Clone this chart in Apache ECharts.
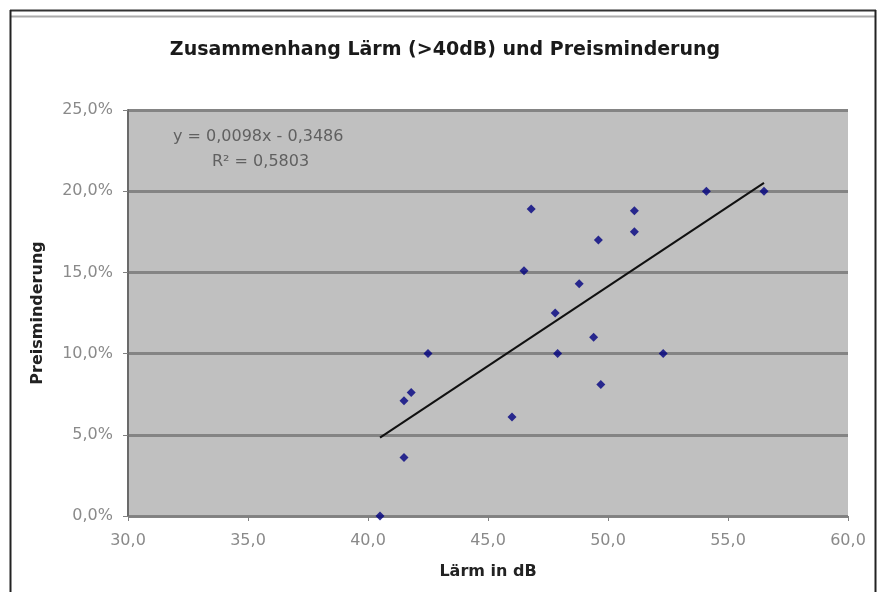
<!DOCTYPE html>
<html>
<head>
<meta charset="utf-8">
<script src="https://cdn.jsdelivr.net/npm/echarts@6/dist/echarts.min.js"></script>
<style>
  html, body { margin: 0; padding: 0; background: #ffffff; }
  #chart { width: 878px; height: 592px; }
</style>
</head>
<body>
<div id="chart"></div>
<script>
// Noise level (dB) for each property
var noiseDb = [40.5, 41.5, 41.5, 41.8, 42.5, 46.0, 46.5, 46.8, 47.8, 47.9,
               48.8, 49.4, 49.6, 49.7, 51.1, 51.1, 52.3, 54.1, 56.5];
// Price reduction (%) for each property
var reductionPct = [0.0, 3.6, 7.1, 7.6, 10.0, 6.1, 15.1, 18.9, 12.5, 10.0,
                    14.3, 11.0, 17.0, 8.1, 18.8, 17.5, 10.0, 20.0, 20.0];
// Linear trend: reduction (fraction) = slope * dB + intercept
var trendSlope = 0.0098;
var trendIntercept = -0.3486;
var trendR2 = 0.5803;
// Axis ranges
var xTicks = [30, 35, 40, 45, 50, 55, 60];
var yTicks = [0, 5, 10, 15, 20, 25];

function deComma(v, d) { return v.toFixed(d).replace('.', ','); }

var points = noiseDb.map(function (x, i) { return [x, reductionPct[i]]; });
var xMin = Math.min.apply(null, noiseDb);
var xMax = Math.max.apply(null, noiseDb);
var trendLine = [xMin, xMax].map(function (x) {
  return [x, (trendSlope * x + trendIntercept) * 100];
});

var eqText = 'y = ' + deComma(trendSlope, 4) + 'x - ' + deComma(-trendIntercept, 4);
var r2Text = 'R² = ' + deComma(trendR2, 4);

var FONT = 'DejaVu Sans, Verdana, sans-serif';
var chart = echarts.init(document.getElementById('chart'), null, { renderer: 'canvas' });
var labelFont = { color: '#8a8a8a', fontFamily: FONT, fontSize: 16 };

chart.setOption({
  animation: false,
  backgroundColor: '#ffffff',
  title: {
    text: 'Zusammenhang Lärm (>40dB) und Preisminderung',
    left: 440, top: 36, textAlign: 'center',
    textStyle: { fontFamily: FONT, fontWeight: 'bold', fontSize: 19, color: '#1a1a1a' }
  },
  grid: { left: 128, right: 30, top: 110, bottom: 76, show: true, backgroundColor: '#c0c0c0', borderWidth: 0 },
  xAxis: {
    type: 'value', min: xTicks[0], max: xTicks[xTicks.length - 1], interval: 5,
    name: 'Lärm in dB', nameLocation: 'middle', nameGap: 48,
    nameTextStyle: { fontFamily: FONT, fontWeight: 'bold', fontSize: 16, color: '#222' },
    axisLine: { show: true, lineStyle: { color: '#808080', width: 1 } },
    axisTick: { show: true, length: 5, lineStyle: { color: '#808080' } },
    axisLabel: Object.assign({ margin: 17, formatter: function (v) { return deComma(v, 1); } }, labelFont),
    splitLine: { show: false }
  },
  yAxis: {
    type: 'value', min: yTicks[0], max: yTicks[yTicks.length - 1], interval: 5,
    name: 'Preisminderung', nameLocation: 'middle', nameGap: 82, nameRotate: 90,
    nameTextStyle: { fontFamily: FONT, fontWeight: 'bold', fontSize: 16, color: '#222' },
    axisLine: { show: true, lineStyle: { color: '#6a6a6a', width: 2 } },
    axisTick: { show: true, length: 5, lineStyle: { color: '#808080' } },
    axisLabel: Object.assign({ margin: 15, formatter: function (v) { return deComma(v, 1) + '%'; } }, labelFont),
    splitLine: { show: true, lineStyle: { color: '#848484', width: 3 } }
  },
  graphic: [
    // chart frame
    { type: 'line', shape: { x1: 10, y1: 10.5, x2: 876, y2: 10.5 }, style: { stroke: '#333', lineWidth: 2 } },
    { type: 'line', shape: { x1: 10, y1: 16.5, x2: 876, y2: 16.5 }, style: { stroke: '#aaa', lineWidth: 2 } },
    { type: 'line', shape: { x1: 10.5, y1: 10, x2: 10.5, y2: 592 }, style: { stroke: '#222', lineWidth: 2 } },
    { type: 'line', shape: { x1: 875.5, y1: 10, x2: 875.5, y2: 592 }, style: { stroke: '#222', lineWidth: 2 } },
    // trend equation
    { type: 'text', left: 173, top: 129, style: { text: eqText, fill: '#606060', font: '16px ' + FONT } },
    { type: 'text', left: 212, top: 154, style: { text: r2Text, fill: '#606060', font: '16px ' + FONT } }
  ],
  series: [
    {
      type: 'line', data: trendLine, showSymbol: false, silent: true, z: 3,
      lineStyle: { color: '#111', width: 2 }
    },
    {
      type: 'scatter', data: points, symbol: 'diamond', symbolSize: 9, z: 4,
      itemStyle: { color: '#000080' }
    }
  ]
});
</script>
</body>
</html>
